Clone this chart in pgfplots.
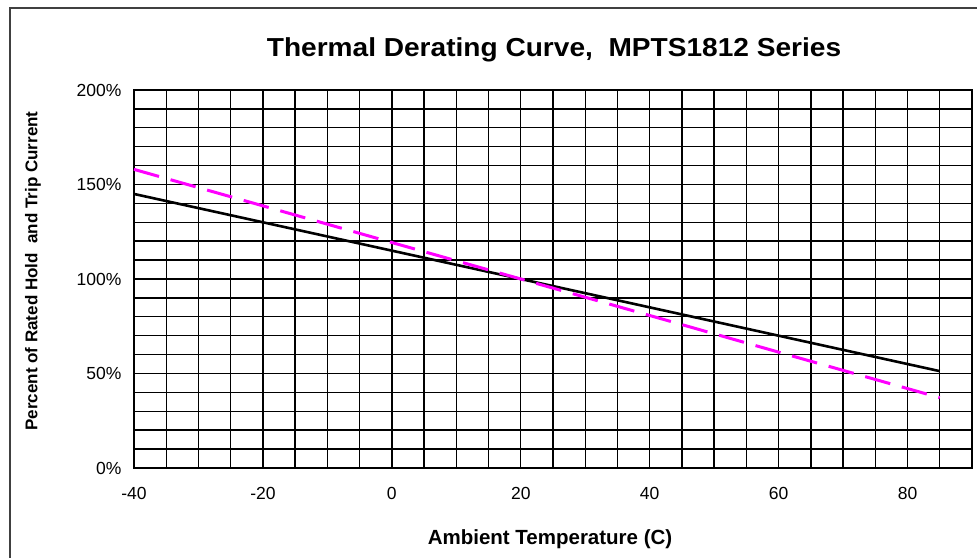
\documentclass[border=0pt]{standalone}
\usepackage{pgfplots}
\pgfplotsset{compat=1.18}
\usepackage{fontspec}
\setmainfont{Liberation Sans}
\newfontfamily\titlefont[FakeStretch=1.08]{Liberation Sans}
\definecolor{mag}{RGB}{255,0,255}
\begin{document}
\begin{tikzpicture}[x=1pt,y=1pt]
\useasboundingbox (0,0) rectangle (977,557);
\draw[line width=2pt, black!75] (10,-20) -- (10,549) -- (1000,549);
\begin{axis}[
  at={(134pt,89pt)}, anchor=south west,
  width=838pt, height=378pt, scale only axis,
  xmin=-40, xmax=90, ymin=0, ymax=200,
  xtick={-40,-20,...,80},
  minor xtick={-35,-30,...,85},
  ytick={0,50,...,200},
  minor ytick={10,20,...,190},
  grid=both,
  major grid style={black, line width=1.4pt},
  minor grid style={black, line width=1.4pt},
  axis line style={black, line width=1.5pt},
  tick style={draw=none},
  yticklabel={\pgfmathprintnumber{\tick}\%},
  ticklabel style={font=\fontsize{17.5}{20}\selectfont},
  /pgf/number format/assume math mode=true,
  xticklabel style={yshift=-16pt},
  yticklabel style={xshift=-9pt},
  clip=false,
]
\addplot[black, line width=2.6pt] coordinates {
  (-40,145) (-20,130) (0,115) (20,100) (40,85) (60,70) (85,51.25)};
\addplot[mag, line width=3pt, dash pattern=on 26pt off 12pt] coordinates {
  (-40,158) (-20,138.7) (0,119.3) (20,100) (40,80.7) (60,61.3) (85,37.2)};
\end{axis}
\node[anchor=base] at (554,500) {\titlefont\bfseries\fontsize{26}{30}\selectfont Thermal Derating Curve,\ \ MPTS1812 Series};
\node[anchor=base] at (550,13) {\bfseries\fontsize{20.5}{24}\selectfont Ambient Temperature (C)};
\node[rotate=90, anchor=center] at (33,286) {\bfseries\fontsize{17}{20}\selectfont Percent of Rated Hold\ \ and Trip Current};
\end{tikzpicture}
\end{document}
